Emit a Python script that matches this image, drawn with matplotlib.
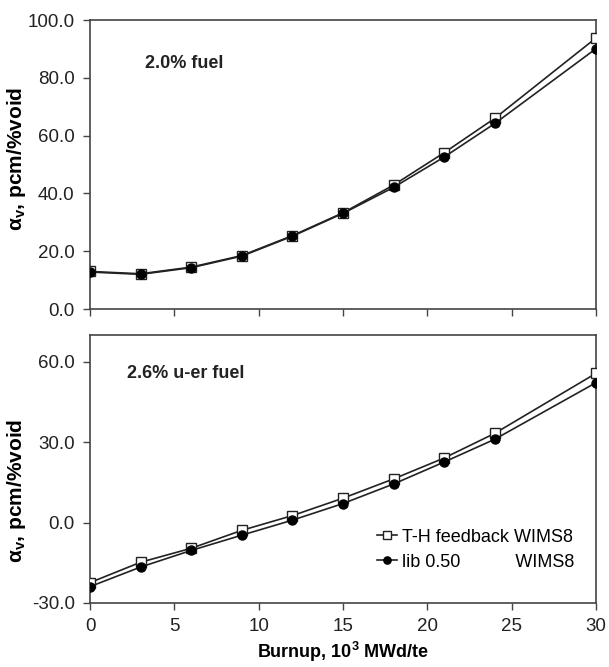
import matplotlib
matplotlib.use("Agg")
import matplotlib.pyplot as plt

plt.rcParams['font.family'] = ['Liberation Sans', 'DejaVu Sans']

# burnup, 10^3 MWd/te
burnup = [0, 3, 6, 9, 12, 15, 18, 21, 24, 30]

# 2.0% fuel
top_th = [13.0, 12.2, 14.5, 18.5, 25.4, 33.3, 42.9, 54.1, 66.0, 93.8]
top_lib = [12.8, 12.0, 14.3, 18.3, 25.2, 33.1, 42.1, 52.6, 64.2, 90.1]

# 2.6% u-er fuel
bot_th = [-22.4, -14.8, -9.6, -2.9, 2.6, 9.1, 16.3, 24.1, 33.3, 55.7]
bot_lib = [-23.9, -16.6, -10.4, -4.7, 0.9, 7.1, 14.4, 22.6, 31.1, 52.2]

top_yticks = [0, 20, 40, 60, 80, 100]
bot_yticks = [-30, 0, 30, 60]
xticks = [0, 5, 10, 15, 20, 25, 30]

edge = '#444444'
fs = 13

fig = plt.figure(figsize=(6.09, 6.67), dpi=100)
ax1 = fig.add_axes([0.1478, 0.5367, 0.8309, 0.4333])
ax2 = fig.add_axes([0.1478, 0.0960, 0.8309, 0.4018])


def style(ax):
    for s in ax.spines.values():
        s.set_color(edge)
        s.set_linewidth(1.2)
    ax.tick_params(direction='out', length=5, width=1.0, color=edge,
                   labelsize=13.5, labelcolor='#222222', pad=6)
    ax.set_xlim(0, 30)
    ax.set_xticks(xticks)


def draw(ax, th, lib):
    ax.plot(burnup, th, '-', color='#222222', lw=1.2, marker='s', ms=7,
            mfc='white', mec='#222222', mew=1.0, zorder=3,
            label='T-H feedback WIMS8')
    ax.plot(burnup, lib, '-', color='#222222', lw=1.2, marker='o', ms=6.5,
            mfc='black', mec='black', zorder=4,
            label='lib 0.50           WIMS8')


ylab = r'α$_{\mathregular{v}}$, pcm/%void'

draw(ax1, top_th, top_lib)
style(ax1)
ax1.set_ylim(0, 100)
ax1.set_yticks(top_yticks)
ax1.set_yticklabels(['%.1f' % v for v in top_yticks])
ax1.set_xticklabels([])
ax1.set_ylabel(ylab, fontsize=15, fontweight='bold')
ax1.yaxis.set_label_coords(-0.122, 0.52)
ax1.text(0.109, 0.85, '2.0% fuel', transform=ax1.transAxes, fontsize=fs,
         fontweight='bold', color='#222222', va='center')

draw(ax2, bot_th, bot_lib)
style(ax2)
ax2.set_ylim(-30, 70)
ax2.set_yticks(bot_yticks)
ax2.set_yticklabels(['%.1f' % v for v in bot_yticks])
ax2.set_ylabel(ylab, fontsize=15, fontweight='bold')
ax2.yaxis.set_label_coords(-0.122, 0.42)
ax2.set_xlabel(r'Burnup, 10$^{\mathregular{3}}$ MWd/te', fontsize=13, fontweight='bold', labelpad=3)
ax2.text(0.073, 0.858, '2.6% u-er fuel', transform=ax2.transAxes, fontsize=fs,
         fontweight='bold', color='#222222', va='center')
ax2.legend(loc='lower right', bbox_to_anchor=(0.99, 0.06), frameon=False,
           fontsize=fs, handlelength=1.1, handletextpad=0.3, labelspacing=0.45,
           markerscale=0.8)

fig.savefig('out.png', dpi=100)
